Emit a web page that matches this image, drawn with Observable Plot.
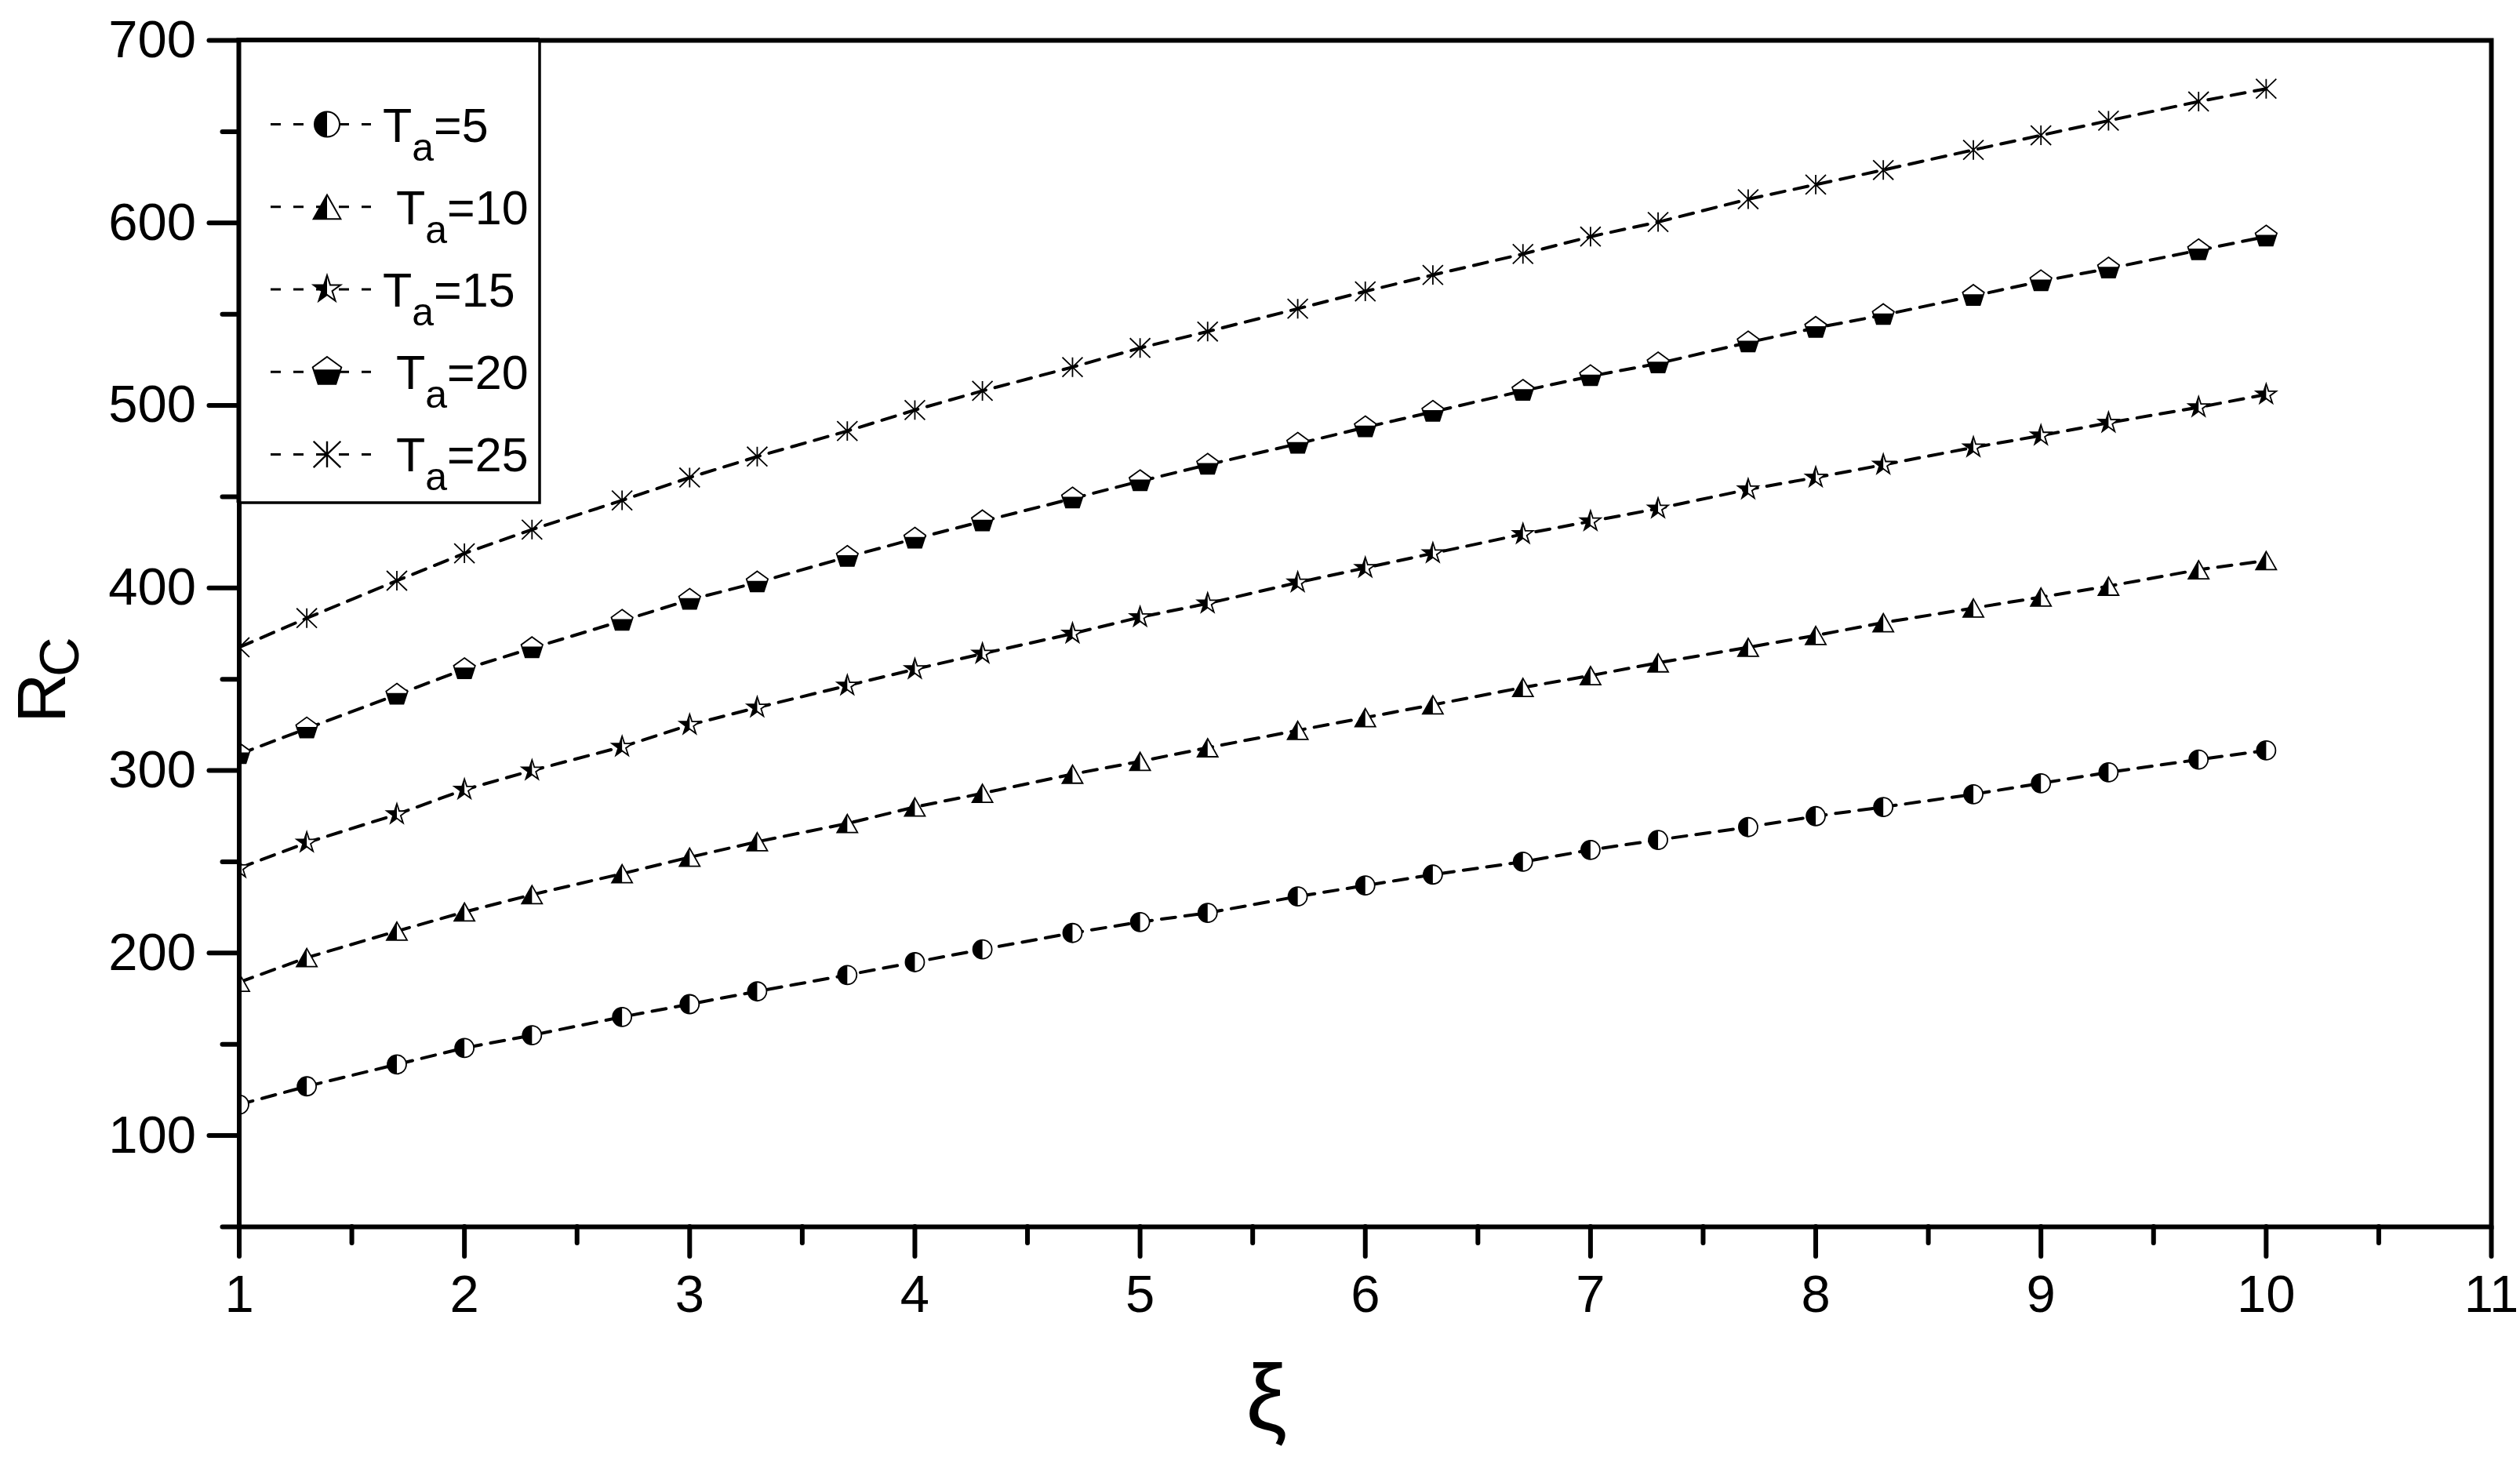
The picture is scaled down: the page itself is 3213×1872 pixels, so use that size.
<!DOCTYPE html>
<html><head><meta charset="utf-8">
<script src="https://cdn.jsdelivr.net/npm/d3@7"></script>
<script src="https://cdn.jsdelivr.net/npm/@observablehq/plot@0.6"></script>
<style>
body{margin:0;background:#fff}
#wrap{position:relative;width:3213px;height:1872px}
#legend{position:absolute;left:0;top:0;pointer-events:none}
</style>
</head><body><div id="wrap"></div>
<script>
// ---- data ----
const xi = [1,1.3,1.7,2,2.3,2.7,3,3.3,3.7,4,4.3,4.7,5,5.3,5.7,6,6.3,6.7,7,7.3,7.7,8,8.3,8.7,9,9.3,9.7,10];
const rcTa5  = [117,127,139,148,155,165,172,179,188,195,202,211,217,222,231,237,243,250,256.5,262,269,275,280,287,293,299,306,311];
const rcTa10 = [184,197.5,212,222.5,232,243.5,252.5,261,271,280,287.5,298,305,312.5,322,329,336,345.5,352,359,367.5,374,381,389,395,401,410,415];
const rcTa15 = [246.5,260.5,276,289.5,300,313,325,334.5,346.5,355.5,364,375,384,391.5,403,411,419,429.5,436.5,443.5,454,460.5,467.5,477,483.5,490.5,499,506];
const rcTa20 = [309,323,341.5,355.5,367,382,393.5,403,417,427,436.5,449,458.5,467.5,479,488,496.5,508,516,523,534.5,542.5,549.5,560,568,575,585,592.5];
const rcTa25 = [367.5,383.5,404,419,432,448,460.5,472,486,497.5,508,521,531.5,540.5,553,562.5,571.5,583,592.5,600.5,613,621,629,640,648,656,666.5,673.5];
const taValues = [5,10,15,20,25];
const xTicks = [1,2,3,4,5,6,7,8,9,10,11];
const xMinorTicks = [1.5,2.5,3.5,4.5,5.5,6.5,7.5,8.5,9.5,10.5];
const yTicks = [100,200,300,400,500,600,700];
const yMinorTicks = [50,150,250,350,450,550,650];

// ---- custom symbols ----
const rad = s => Math.sqrt(s / Math.PI);
const poly = (ctx, pts) => { ctx.moveTo(pts[0][0], pts[0][1]); for (let i = 1; i < pts.length; i++) ctx.lineTo(pts[i][0], pts[i][1]); ctx.closePath(); };
const circleFull = {draw(ctx, s){const r = rad(s); ctx.moveTo(r,0); ctx.arc(0,0,r,0,2*Math.PI); ctx.closePath();}};
const circleLeft = {draw(ctx, s){const r = rad(s); ctx.moveTo(0,-r); ctx.arc(0,0,r,-Math.PI/2,Math.PI/2,true); ctx.closePath();}};
const triFull = {draw(ctx, s){const r = rad(s), w = 1.083*r, h = 0.958*r; poly(ctx, [[0,-h],[w,h],[-w,h]]);}};
const triLeft = {draw(ctx, s){const r = rad(s), w = 1.083*r, h = 0.958*r; poly(ctx, [[0,-h],[0,h],[-w,h]]);}};
function starPts(r, ks){const Ro = 1.125*r, Ri = Ro*0.382; return ks.map(k => {const a = (-90 + 36*k)*Math.PI/180, rr = (Math.abs(k)%2===0) ? Ro : Ri; return [rr*Math.cos(a), rr*Math.sin(a)];});}
const starFull = {draw(ctx, s){poly(ctx, starPts(rad(s), [0,1,2,3,4,5,6,7,8,9]));}};
const starLeft = {draw(ctx, s){poly(ctx, starPts(rad(s), [0,-1,-2,-3,-4,-5]));}};
function pentPts(R){return [0,1,2,3,4].map(k => {const a = (-90 + 72*k)*Math.PI/180; return [R*Math.cos(a), R*Math.sin(a)];});}
const pentFull = {draw(ctx, s){poly(ctx, pentPts(1.2*rad(s)));}};
const pentBottom = {draw(ctx, s){
  const R = 1.2*rad(s), p = pentPts(R), yc = -0.15*R;
  const t = (yc - p[1][1]) / (p[2][1] - p[1][1]);
  const xc = p[1][0] + t*(p[2][0] - p[1][0]);
  poly(ctx, [[-xc,yc],[xc,yc],p[2],p[3]]);
}};
const asterisk = {draw(ctx, s){const r = rad(s), w = 1.08*r, h = 1.04*r;
  ctx.moveTo(0,-h); ctx.lineTo(0,h); ctx.moveTo(-w,-h); ctx.lineTo(w,h); ctx.moveTo(w,-h); ctx.lineTo(-w,h);}};

const seriesDefs = [
  {ta: taValues[0], rc: rcTa5,  outline: circleFull, half: circleLeft, lead: 0},
  {ta: taValues[1], rc: rcTa10, outline: triFull,    half: triLeft,    lead: 17},
  {ta: taValues[2], rc: rcTa15, outline: starFull,   half: starLeft,   lead: 0},
  {ta: taValues[3], rc: rcTa20, outline: pentFull,   half: pentBottom, lead: 17},
  {ta: taValues[4], rc: rcTa25, outline: asterisk,   half: null,       lead: 17}
];
const rows = seriesDefs.flatMap(sd => xi.map((x, i) => ({xi: x, rc: sd.rc[i], ta: sd.ta})));

const FONT = "'Liberation Sans', Arial, Helvetica, sans-serif";
const marks = [];
marks.push(Plot.line(rows, {x: "xi", y: "rc", z: "ta", stroke: "black", strokeWidth: 4, strokeDasharray: "18,12", clip: true}));
for (const sd of seriesDefs) {
  const d = rows.filter(r => r.ta === sd.ta);
  if (sd.half) {
    marks.push(Plot.dot(d, {x: "xi", y: "rc", symbol: sd.outline, r: 12, fill: "white", stroke: "black", strokeWidth: 1.8, clip: true}));
    marks.push(Plot.dot(d, {x: "xi", y: "rc", symbol: sd.half, r: 12, fill: "black", stroke: "none", clip: true}));
  } else {
    marks.push(Plot.dot(d, {x: "xi", y: "rc", symbol: sd.outline, r: 12, fill: "none", stroke: "black", strokeWidth: 1.8, clip: true}));
  }
}
marks.push(Plot.axisX({ticks: xTicks, tickSize: 38, tickPadding: 23, strokeWidth: 6, strokeLinecap: "round", fontSize: 67, label: null, tickFormat: d => String(d)}));
marks.push(Plot.axisX({ticks: xMinorTicks, tickSize: 21, strokeWidth: 6, strokeLinecap: "round", label: null, tickFormat: () => ""}));
marks.push(Plot.axisY({ticks: yTicks, tickSize: 38, tickPadding: 17, strokeWidth: 6, strokeLinecap: "round", fontSize: 67, label: null, tickFormat: d => String(d)}));
marks.push(Plot.axisY({ticks: yMinorTicks, tickSize: 21, strokeWidth: 6, strokeLinecap: "round", label: null, tickFormat: () => ""}));
marks.push(Plot.frame({stroke: "black", strokeWidth: 6}));
marks.push(Plot.text(["ξ"], {frameAnchor: "bottom", text: d => d, fontSize: 118, dx: -126, dy: 258, lineAnchor: "bottom", fontFamily: FONT}));
marks.push(Plot.text(["R"], {frameAnchor: "left", text: d => d, fontSize: 88, rotate: -90, textAnchor: "start", lineAnchor: "bottom", dx: -222.5, dy: 114, fontFamily: FONT}));
marks.push(Plot.text(["C"], {frameAnchor: "left", text: d => d, fontSize: 70, rotate: -90, textAnchor: "start", lineAnchor: "bottom", dx: -205, dy: 55, fontFamily: FONT}));

const chart = Plot.plot({
  width: 3213, height: 1872,
  marginLeft: 304.5, marginRight: 37, marginTop: 51, marginBottom: 308,
  x: {domain: [1, 11]},
  y: {domain: [50, 700]},
  style: {fontFamily: FONT, fontSize: "67px", background: "white", color: "black"},
  marks
});
const wrap = document.getElementById("wrap");
wrap.appendChild(chart);

// ---- legend overlay (inside the plot frame, top-left) ----
const lg = d3.select(wrap).append("svg").attr("id", "legend").attr("width", 3213).attr("height", 1872);
const box = {x0: 304.5, y0: 51, x1: 688, y1: 641};
lg.append("rect").attr("x", box.x0).attr("y", box.y0).attr("width", box.x1 - box.x0).attr("height", box.y1 - box.y0)
  .attr("fill", "white").attr("stroke", "black").attr("stroke-width", 3.5);
lg.append("path").attr("d", `M${box.x0},${box.y1}V${box.y0}H${box.x1}`).attr("fill", "none").attr("stroke", "black").attr("stroke-width", 6);
const rowY0 = 158.6, rowStep = 105.2, lsize = Math.PI * 16 * 16;
seriesDefs.forEach((sd, i) => {
  const cy = rowY0 + i * rowStep;
  lg.append("line").attr("x1", 345).attr("x2", 473).attr("y1", cy).attr("y2", cy)
    .attr("stroke", "black").attr("stroke-width", 3).attr("stroke-dasharray", "13,16");
  const g = lg.append("g").attr("transform", `translate(417,${cy})`);
  if (sd.half) {
    g.append("path").attr("d", d3.symbol(sd.outline, lsize)()).attr("fill", "white").attr("stroke", "black").attr("stroke-width", 2);
    g.append("path").attr("d", d3.symbol(sd.half, lsize)()).attr("fill", "black");
  } else {
    g.append("path").attr("d", d3.symbol(sd.outline, lsize)()).attr("fill", "none").attr("stroke", "black").attr("stroke-width", 2.4);
  }
  const t = lg.append("text").attr("x", 488 + sd.lead).attr("y", cy + 22)
    .attr("font-family", FONT).attr("font-size", 61).attr("fill", "black");
  t.append("tspan").text("T");
  t.append("tspan").attr("font-size", 50).attr("dy", 24).text("a");
  t.append("tspan").attr("font-size", 61).attr("dy", -24).text("=" + sd.ta);
});
</script>
</body></html>
